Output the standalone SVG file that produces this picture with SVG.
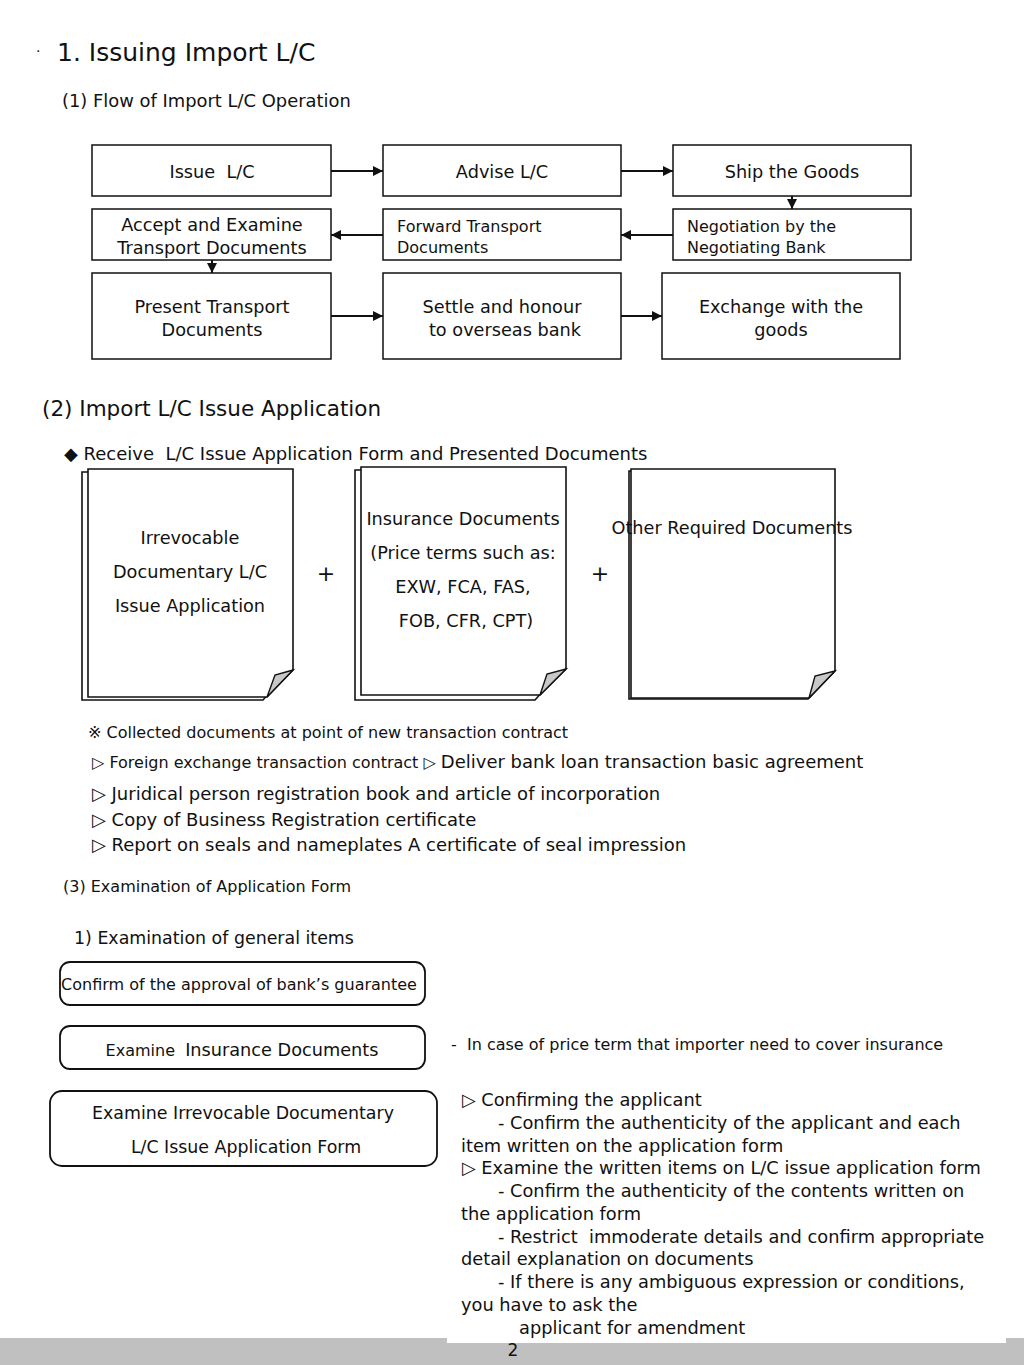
<svg xmlns="http://www.w3.org/2000/svg" width="1024" height="1365" viewBox="0 0 1024 1365">
<defs>
<style>
text{font-family:"DejaVu Sans","Liberation Sans",sans-serif;fill:#111}
.box{fill:#fff;stroke:#111;stroke-width:1.5}
.rbox{fill:#fff;stroke:#111;stroke-width:1.8}
.edge{stroke:#111;stroke-width:2;fill:none}
.sheet{fill:#fff;stroke:#111;stroke-width:1.6}
.fold{fill:#c8c8c8;stroke:#111;stroke-width:1.4}
.c{text-anchor:middle}
.f17{font-size:17.7px}
.f15{font-size:16px}
</style>
<marker id="ah" viewBox="0 0 10 10" refX="10" refY="5" markerWidth="10" markerHeight="10" markerUnits="userSpaceOnUse" orient="auto">
<path d="M0,0 L10,5 L0,10 z" fill="#111"/>
</marker>
</defs>
<rect x="0" y="0" width="1024" height="1365" fill="#fff"/>
<rect x="0" y="1338" width="1024" height="27" fill="#c0c0c0"/>
<rect x="447" y="1080" width="559" height="263" fill="#fff"/>

<text x="36" y="56" font-size="14">·</text>
<text x="57" y="61" font-size="25">1. Issuing Import L/C</text>
<text x="62" y="107" font-size="17.9">(1) Flow of Import L/C Operation</text>

<g id="connectors">
<line class="edge" x1="331" y1="171" x2="383" y2="171" marker-end="url(#ah)"/>
<line class="edge" x1="621" y1="171" x2="673" y2="171" marker-end="url(#ah)"/>
<line class="edge" x1="792" y1="196" x2="792" y2="209" marker-end="url(#ah)"/>
<line class="edge" x1="673" y1="235" x2="621" y2="235" marker-end="url(#ah)"/>
<line class="edge" x1="383" y1="235" x2="331" y2="235" marker-end="url(#ah)"/>
<line class="edge" x1="212" y1="260" x2="212" y2="273" marker-end="url(#ah)"/>
<line class="edge" x1="331" y1="316" x2="383" y2="316" marker-end="url(#ah)"/>
<line class="edge" x1="621" y1="316" x2="662" y2="316" marker-end="url(#ah)"/>
</g>

<g id="issue">
<rect class="box" x="92" y="145" width="239" height="51"/>
<text x="212" y="178" class="c f17" xml:space="preserve">Issue  L/C</text>
</g>
<g id="advise">
<rect class="box" x="383" y="145" width="238" height="51"/>
<text x="502" y="178" class="c f17">Advise L/C</text>
</g>
<g id="ship">
<rect class="box" x="673" y="145" width="238" height="51"/>
<text x="792" y="178" class="c f17">Ship the Goods</text>
</g>
<g id="accept">
<rect class="box" x="92" y="209" width="239" height="51"/>
<text x="212" y="231" class="c f17">Accept and Examine</text>
<text x="212" y="254" class="c f17">Transport Documents</text>
</g>
<g id="forward">
<rect class="box" x="383" y="209" width="238" height="51"/>
<text x="397" y="232" class="f15">Forward Transport</text>
<text x="397" y="253" class="f15">Documents</text>
</g>
<g id="negotiation">
<rect class="box" x="673" y="209" width="238" height="51"/>
<text x="687" y="232" class="f15">Negotiation by the</text>
<text x="687" y="253" class="f15">Negotiating Bank</text>
</g>
<g id="present">
<rect class="box" x="92" y="273" width="239" height="86"/>
<text x="212" y="313" class="c f17">Present Transport</text>
<text x="212" y="336" class="c f17">Documents</text>
</g>
<g id="settle">
<rect class="box" x="383" y="273" width="238" height="86"/>
<text x="502" y="313" class="c f17">Settle and honour</text>
<text x="505" y="336" class="c f17">to overseas bank</text>
</g>
<g id="exchange">
<rect class="box" x="662" y="273" width="238" height="86"/>
<text x="781" y="313" class="c f17">Exchange with the</text>
<text x="781" y="336" class="c f17">goods</text>
</g>

<text x="42" y="416" font-size="21.5">(2) Import L/C Issue Application</text>
<text x="64" y="460" font-size="18" xml:space="preserve">◆ Receive  L/C Issue Application Form and Presented Documents</text>

<g id="doc1">
<path class="sheet" d="M82,472 L82,700 L263,700 L288,672 L288,472 Z"/>
<path class="sheet" d="M88,469 L293,469 L293,670 L267,697 L88,697 Z"/>
<path class="fold" d="M293,670 L275,675 L267,697 Z"/>
<text x="190" y="544" class="c f17">Irrevocable</text>
<text x="190" y="578" class="c f17">Documentary L/C</text>
<text x="190" y="612" class="c f17">Issue Application</text>
</g>
<text x="326" y="581" class="c" font-size="22">+</text>
<g id="doc2">
<path class="sheet" d="M355,470 L355,700 L535,700 L560,672 L560,470 Z"/>
<path class="sheet" d="M361,467 L566,467 L566,669 L540,695 L361,695 Z"/>
<path class="fold" d="M566,669 L547,674 L540,695 Z"/>
<text x="463" y="525" class="c f17">Insurance Documents</text>
<text x="463" y="559" class="c f17">(Price terms such as:</text>
<text x="463" y="593" class="c f17">EXW, FCA, FAS,</text>
<text x="466" y="627" class="c f17">FOB, CFR, CPT)</text>
</g>
<text x="600" y="581" class="c" font-size="22">+</text>
<g id="doc3">
<path class="sheet" d="M629,471 L629,699 L808,699 L833,673 L833,471 Z"/>
<path class="sheet" d="M631,469 L835,469 L835,671 L809,698 L631,698 Z"/>
<path class="fold" d="M835,671 L815,676 L809,698 Z"/>
<text x="732" y="534" class="c f17">Other Required Documents</text>
</g>

<text x="88" y="738" class="f15">※ Collected documents at point of new transaction contract</text>
<text x="92" y="768"><tspan class="f15">▷ Foreign exchange transaction contract ▷ </tspan><tspan font-size="18">Deliver bank loan transaction basic agreement</tspan></text>
<text x="92" y="800" font-size="18">▷ Juridical person registration book and article of incorporation</text>
<text x="92" y="826" font-size="18">▷ Copy of Business Registration certificate</text>
<text x="92" y="851" font-size="18">▷ Report on seals and nameplates A certificate of seal impression</text>

<text x="63" y="892" class="f15">(3) Examination of Application Form</text>
<text x="74" y="944" font-size="17.4">1) Examination of general items</text>

<g id="confirm-guarantee">
<rect class="rbox" x="60" y="962" width="365" height="43" rx="10"/>
<text x="239" y="990" class="c f15">Confirm of the approval of bank’s guarantee</text>
</g>
<g id="examine-insurance">
<rect class="rbox" x="60" y="1026" width="365" height="43" rx="10"/>
<text x="242" y="1056" class="c" xml:space="preserve"><tspan class="f15">Examine  </tspan><tspan font-size="17.7">Insurance Documents</tspan></text>
</g>
<g id="examine-application">
<rect class="rbox" x="50" y="1091" width="387" height="75" rx="12"/>
<text x="243" y="1119" font-size="17.4" class="c">Examine Irrevocable Documentary</text>
<text x="246" y="1153" font-size="17.4" class="c">L/C Issue Application Form</text>
</g>

<text x="451" y="1050" class="f15" xml:space="preserve">-  In case of price term that importer need to cover insurance</text>

<g font-size="17.8">
<text x="462" y="1106">▷ Confirming the applicant</text>
<text x="498" y="1129">- Confirm the authenticity of the applicant and each</text>
<text x="461" y="1152">item written on the application form</text>
<text x="462" y="1174">▷ Examine the written items on L/C issue application form</text>
<text x="498" y="1197">- Confirm the authenticity of the contents written on</text>
<text x="461" y="1220">the application form</text>
<text x="498" y="1243" xml:space="preserve">- Restrict  immoderate details and confirm appropriate</text>
<text x="461" y="1265">detail explanation on documents</text>
<text x="498" y="1288">- If there is any ambiguous expression or conditions,</text>
<text x="461" y="1311">you have to ask the</text>
<text x="519" y="1334">applicant for amendment</text>
</g>
<text x="513" y="1356" class="c" font-size="17">2</text>
</svg>
